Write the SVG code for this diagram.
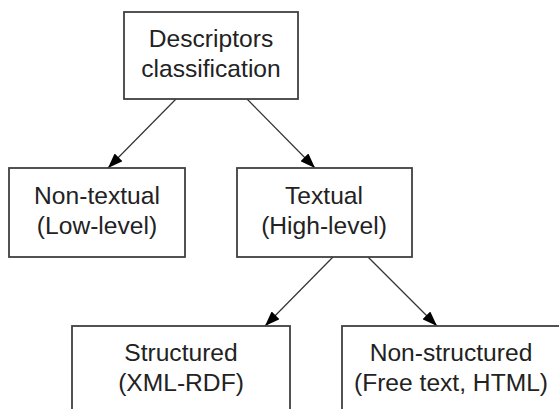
<svg xmlns="http://www.w3.org/2000/svg" width="559" height="409" viewBox="0 0 559 409">
  <style>
    .box { fill: #ffffff; stroke: #404040; stroke-width: 1.8; }
    .label { font-family: "Liberation Sans", Arial, sans-serif; font-size: 24.6px; fill: #222222; text-anchor: middle; }
    .edge { stroke: #333333; stroke-width: 1.2; fill: none; marker-end: url(#arrow); }
  </style>
  <defs>
    <marker id="arrow" viewBox="0 0 15 11" refX="15" refY="5.5" markerWidth="15" markerHeight="11" markerUnits="userSpaceOnUse" orient="auto">
      <path d="M0,0 L15,5.5 L0,11 Z" fill="#000000"/>
    </marker>
  </defs>
  <rect width="559" height="409" fill="#ffffff"/>

  <g id="connectors">
    <line class="edge" x1="176" y1="99" x2="108" y2="168"/>
    <line class="edge" x1="247" y1="99" x2="315" y2="168"/>
    <line class="edge" x1="333" y1="257" x2="265" y2="326"/>
    <line class="edge" x1="368" y1="257" x2="437" y2="326"/>
  </g>

  <g id="descriptors">
    <rect class="box" x="124" y="12" width="174" height="87"/>
    <text class="label" x="211" y="47">Descriptors</text>
    <text class="label" x="211" y="77">classification</text>
  </g>

  <g id="non-textual">
    <rect class="box" x="9" y="168" width="176" height="89"/>
    <text class="label" x="97" y="204">Non-textual</text>
    <text class="label" x="97" y="234">(Low-level)</text>
  </g>

  <g id="textual">
    <rect class="box" x="237" y="168" width="175" height="89"/>
    <text class="label" x="324" y="204">Textual</text>
    <text class="label" x="324" y="234">(High-level)</text>
  </g>

  <g id="structured">
    <rect class="box" x="72" y="326" width="218" height="110"/>
    <text class="label" x="181" y="361">Structured</text>
    <text class="label" x="181" y="391">(XML-RDF)</text>
  </g>

  <g id="non-structured">
    <rect class="box" x="342" y="326" width="240" height="110"/>
    <text class="label" x="451" y="361">Non-structured</text>
    <text class="label" x="451" y="391">(Free text, HTML)</text>
  </g>
</svg>
